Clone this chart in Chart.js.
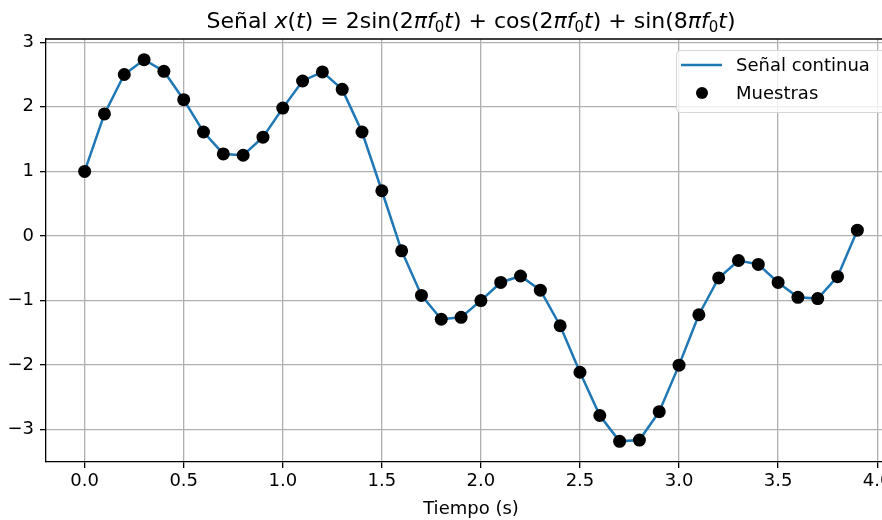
<!DOCTYPE html>
<html lang="es">
<head>
<meta charset="utf-8">
<title>Señal muestreada</title>
<script src="https://cdn.jsdelivr.net/npm/chart.js@4.4.1/dist/chart.umd.min.js"></script>
<style>
  html, body { margin: 0; padding: 0; background: #fff; overflow: hidden; }
  #wrap { position: absolute; left: 0; top: 0; width: 920px; height: 520px; }
</style>
</head>
<body>
<div id="wrap"><canvas id="senalChart"></canvas></div>
<script>
// Tiempos de muestreo (s)
const tiempos = [
  0.0, 0.1, 0.2, 0.3, 0.4, 0.5, 0.6, 0.7, 0.8, 0.9,
  1.0, 1.1, 1.2, 1.3, 1.4, 1.5, 1.6, 1.7, 1.8, 1.9,
  2.0, 2.1, 2.2, 2.3, 2.4, 2.5, 2.6, 2.7, 2.8, 2.9,
  3.0, 3.1, 3.2, 3.3, 3.4, 3.5, 3.6, 3.7, 3.8, 3.9,
];

// Valores
const muestras = [
  1.00, 1.89, 2.50, 2.73, 2.55, 2.11, 1.61, 1.27, 1.25, 1.53,
  1.98, 2.40, 2.54, 2.27, 1.61, 0.70, -0.23, -0.92, -1.29, -1.26,
  -1.00, -0.72, -0.62, -0.84, -1.39, -2.11, -2.78, -3.18, -3.16, -2.72,
  -2.00, -1.22, -0.65, -0.38, -0.44, -0.72, -0.95, -0.97, -0.63, 0.09,
];

const xTicks = [0, 0.5, 1.0, 1.5, 2.0, 2.5, 3.0, 3.5, 4.0];
const yTicks = [-3, -2, -1, 0, 1, 2, 3];

const etiquetas = ["Señal continua", "Muestras"];
const ejeX = "Tiempo (s)";

// título con partes en cursiva (estilo mathtext)
const tituloPartes = [
  ["Señal ", "n"], ["x", "i"], ["(", "n"], ["t", "i"], [")", "n"], [" = ", "n"],
  ["2sin(2", "n"], ["π", "i"], ["f", "i"], ["0", "s"], ["t", "i"], [")", "n"], [" + ", "n"],
  ["cos(2", "n"], ["π", "i"], ["f", "i"], ["0", "s"], ["t", "i"], [")", "n"], [" + ", "n"],
  ["sin(8", "n"], ["π", "i"], ["f", "i"], ["0", "s"], ["t", "i"], [")", "n"],
];

const FUENTE = "'DejaVu Sans', Verdana, sans-serif";
const azul = "#1f77b4";
const grisRejilla = "#b0b0b0";

const puntos = tiempos.map((t, i) => ({ x: t, y: muestras[i] }));

// Título dibujado a mano para mezclar cursiva y subíndices
const tituloPlugin = {
  id: "tituloMath",
  afterDraw(chart) {
    const ctx = chart.ctx;
    const size = 22;
    const fonts = {
      n: `${size}px ${FUENTE}`,
      i: `italic ${size}px ${FUENTE}`,
      s: `${Math.round(size * 0.7)}px ${FUENTE}`,
    };
    ctx.save();
    let total = 0;
    tituloPartes.forEach(([txt, st]) => {
      ctx.font = fonts[st];
      total += ctx.measureText(txt).width;
    });
    const area = chart.chartArea;
    let x = (area.left + area.right) / 2 - total / 2;
    const base = 28;
    ctx.fillStyle = "#000";
    ctx.textBaseline = "alphabetic";
    tituloPartes.forEach(([txt, st]) => {
      ctx.font = fonts[st];
      ctx.fillText(txt, x, st === "s" ? base + 4 : base);
      x += ctx.measureText(txt).width;
    });
    ctx.restore();
  },
};

// Marco superior/derecho + leyenda dentro del área
const marcoLeyenda = {
  id: "marcoLeyenda",
  beforeDatasetsDraw(chart) {
    const { ctx, chartArea: a } = chart;
    ctx.save();
    ctx.strokeStyle = "#000";
    ctx.lineWidth = 1.3;
    ctx.beginPath();
    ctx.moveTo(a.left, a.top);
    ctx.lineTo(a.right, a.top);
    ctx.lineTo(a.right, a.bottom);
    ctx.stroke();
    ctx.restore();
  },
  afterDatasetsDraw(chart) {
    const { ctx, chartArea: a } = chart;
    ctx.save();
    ctx.font = `18px ${FUENTE}`;
    const ancho = Math.max(...etiquetas.map((t) => ctx.measureText(t).width));
    const bx = a.right - 220, by = a.top + 11;
    const bw = 60 + ancho + 20, bh = 62;
    ctx.fillStyle = "rgba(255,255,255,0.8)";
    ctx.strokeStyle = "#d6d6d6";
    ctx.lineWidth = 1;
    ctx.beginPath();
    ctx.roundRect(bx + 0.5, by + 0.5, bw, bh, 4);
    ctx.fill();
    ctx.stroke();

    const ds = chart.data.datasets;
    const filas = [by + 15, by + 43];
    // línea
    ctx.strokeStyle = ds[0].borderColor;
    ctx.lineWidth = ds[0].borderWidth;
    ctx.beginPath();
    ctx.moveTo(bx + 5, filas[0]);
    ctx.lineTo(bx + 46, filas[0]);
    ctx.stroke();
    // punto
    ctx.fillStyle = "#000";
    ctx.beginPath();
    ctx.arc(bx + 26, filas[1], 6, 0, Math.PI * 2);
    ctx.fill();

    ctx.fillStyle = "#000";
    ctx.textBaseline = "middle";
    ctx.fillText(ds[0].label, bx + 60, filas[0] + 1);
    ctx.fillText(ds[1].label, bx + 60, filas[1] + 1);
    ctx.restore();
  },
};

const formatoY = (v) => (v < 0 ? "\u2212" + Math.abs(v) : String(v));

const ctxSenal = document.getElementById("senalChart").getContext("2d");
new Chart(ctxSenal, {
  type: "scatter",
  data: {
    datasets: [
      {
        label: etiquetas[0],
        data: puntos,
        showLine: true,
        borderColor: azul,
        backgroundColor: azul,
        borderWidth: 2.5,
        pointRadius: 0,
        pointHoverRadius: 0,
        tension: 0,
        order: 2,
      },
      {
        label: etiquetas[1],
        data: puntos,
        showLine: false,
        backgroundColor: "#000",
        borderColor: "#000",
        pointRadius: 6.5,
        pointBorderWidth: 0,
        order: 1,
      },
    ],
  },
  plugins: [tituloPlugin, marcoLeyenda],
  options: {
    responsive: true,
    maintainAspectRatio: false,
    animation: false,
    layout: { padding: { top: 39, right: 24, left: 0, bottom: 0 } },
    plugins: {
      legend: { display: false },
      tooltip: { enabled: false },
      title: { display: false },
    },
    scales: {
      x: {
        type: "linear",
        min: -0.195,
        max: 4.095,
        afterBuildTicks: (s) => { s.ticks = xTicks.map((v) => ({ value: v })); },
        afterFit: (s) => { s.height = 58; },
        ticks: {
          callback: (v) => Number(v).toFixed(1),
          color: "#000",
          font: { family: FUENTE, size: 18 },
          padding: 3,
          maxRotation: 0,
        },
        grid: { color: grisRejilla, lineWidth: 1.3, tickColor: "#000", tickLength: 6, tickWidth: 1.3 },
        border: { color: "#000", width: 1.3 },
        title: {
          display: true,
          text: ejeX,
          color: "#000",
          font: { family: FUENTE, size: 18 },
          padding: { top: 2, bottom: 0 },
        },
      },
      y: {
        min: -3.5,
        max: 3.05,
        afterBuildTicks: (s) => { s.ticks = yTicks.map((v) => ({ value: v })); },
        afterFit: (s) => { s.width = 46; },
        ticks: {
          callback: formatoY,
          color: "#000",
          font: { family: FUENTE, size: 18 },
          padding: 6,
        },
        grid: { color: grisRejilla, lineWidth: 1.3, tickColor: "#000", tickLength: 6, tickWidth: 1.3 },
        border: { color: "#000", width: 1.3 },
      },
    },
  },
});
</script>
</body>
</html>
